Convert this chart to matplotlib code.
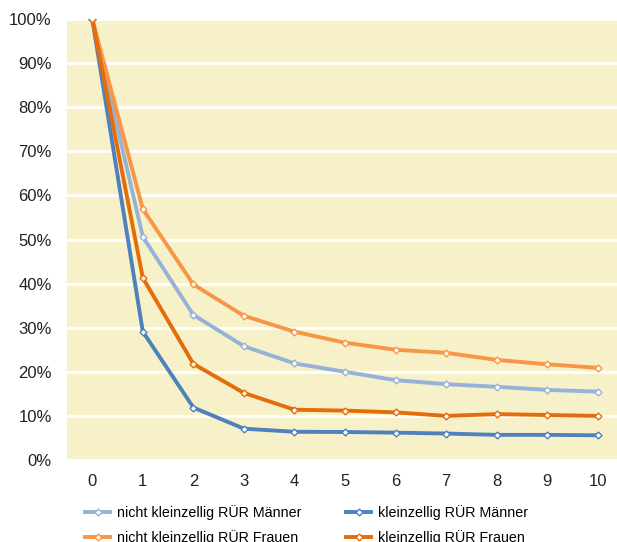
import matplotlib
matplotlib.use("Agg")
import matplotlib.pyplot as plt
from matplotlib.ticker import PercentFormatter

plt.rcParams['font.family'] = ['Liberation Sans', 'DejaVu Sans']

years = [0, 1, 2, 3, 4, 5, 6, 7, 8, 9, 10]
nk_maenner = [100, 50.6, 32.9, 25.8, 21.9, 20.0, 18.1, 17.2, 16.6, 15.9, 15.5]
nk_frauen = [100, 56.9, 39.8, 32.7, 29.1, 26.6, 25.0, 24.3, 22.7, 21.7, 20.9]
k_maenner = [100, 29.1, 11.9, 7.1, 6.4, 6.35, 6.2, 6.0, 5.7, 5.7, 5.6]
k_frauen = [100, 41.3, 21.8, 15.2, 11.4, 11.2, 10.8, 10.0, 10.4, 10.2, 10.0]
labels = ["nicht kleinzellig RÜR Männer", "nicht kleinzellig RÜR Frauen",
          "kleinzellig RÜR Männer", "kleinzellig RÜR Frauen"]
colors = ["#95B3D7", "#F79646", "#4F81BD", "#E46C0A"]

fig = plt.figure(figsize=(6.17, 5.42), dpi=100)
ax = fig.add_axes([67/617, 82/542, 550/617, 441/542])
ax.set_facecolor("#F7F1C9")

handles = []
for ser, lab, col in zip([nk_maenner, nk_frauen, k_maenner, k_frauen], labels, colors):
    h, = ax.plot(years, ser, color=col, lw=2.8, marker='D', ms=3.5,
                 mfc='white', mec=col, mew=1.0, label=lab, solid_joinstyle='round')
    handles.append(h)

ax.set_xlim(-0.5, 10.38)
ax.set_ylim(0, 100)
ax.set_yticks(range(0, 101, 10))
ax.yaxis.set_major_formatter(PercentFormatter(decimals=0))
ax.set_xticks(years)
ax.grid(axis='y', color='white', lw=2)
ax.set_axisbelow(True)
for s in ax.spines.values():
    s.set_visible(False)
ax.tick_params(length=0, labelsize=12, colors='#222222')
ax.tick_params(axis='y', pad=11)
ax.tick_params(axis='x', pad=10)

fig.legend(handles=handles, labels=labels, ncol=2, loc='upper left',
           bbox_to_anchor=(85/617, 1 - 505/542), frameon=False, fontsize=10.3,
           handlelength=1.75, columnspacing=3.1, labelspacing=0.68,
           handletextpad=0.5, borderaxespad=0, borderpad=0)

fig.savefig("out.png", dpi=100)
